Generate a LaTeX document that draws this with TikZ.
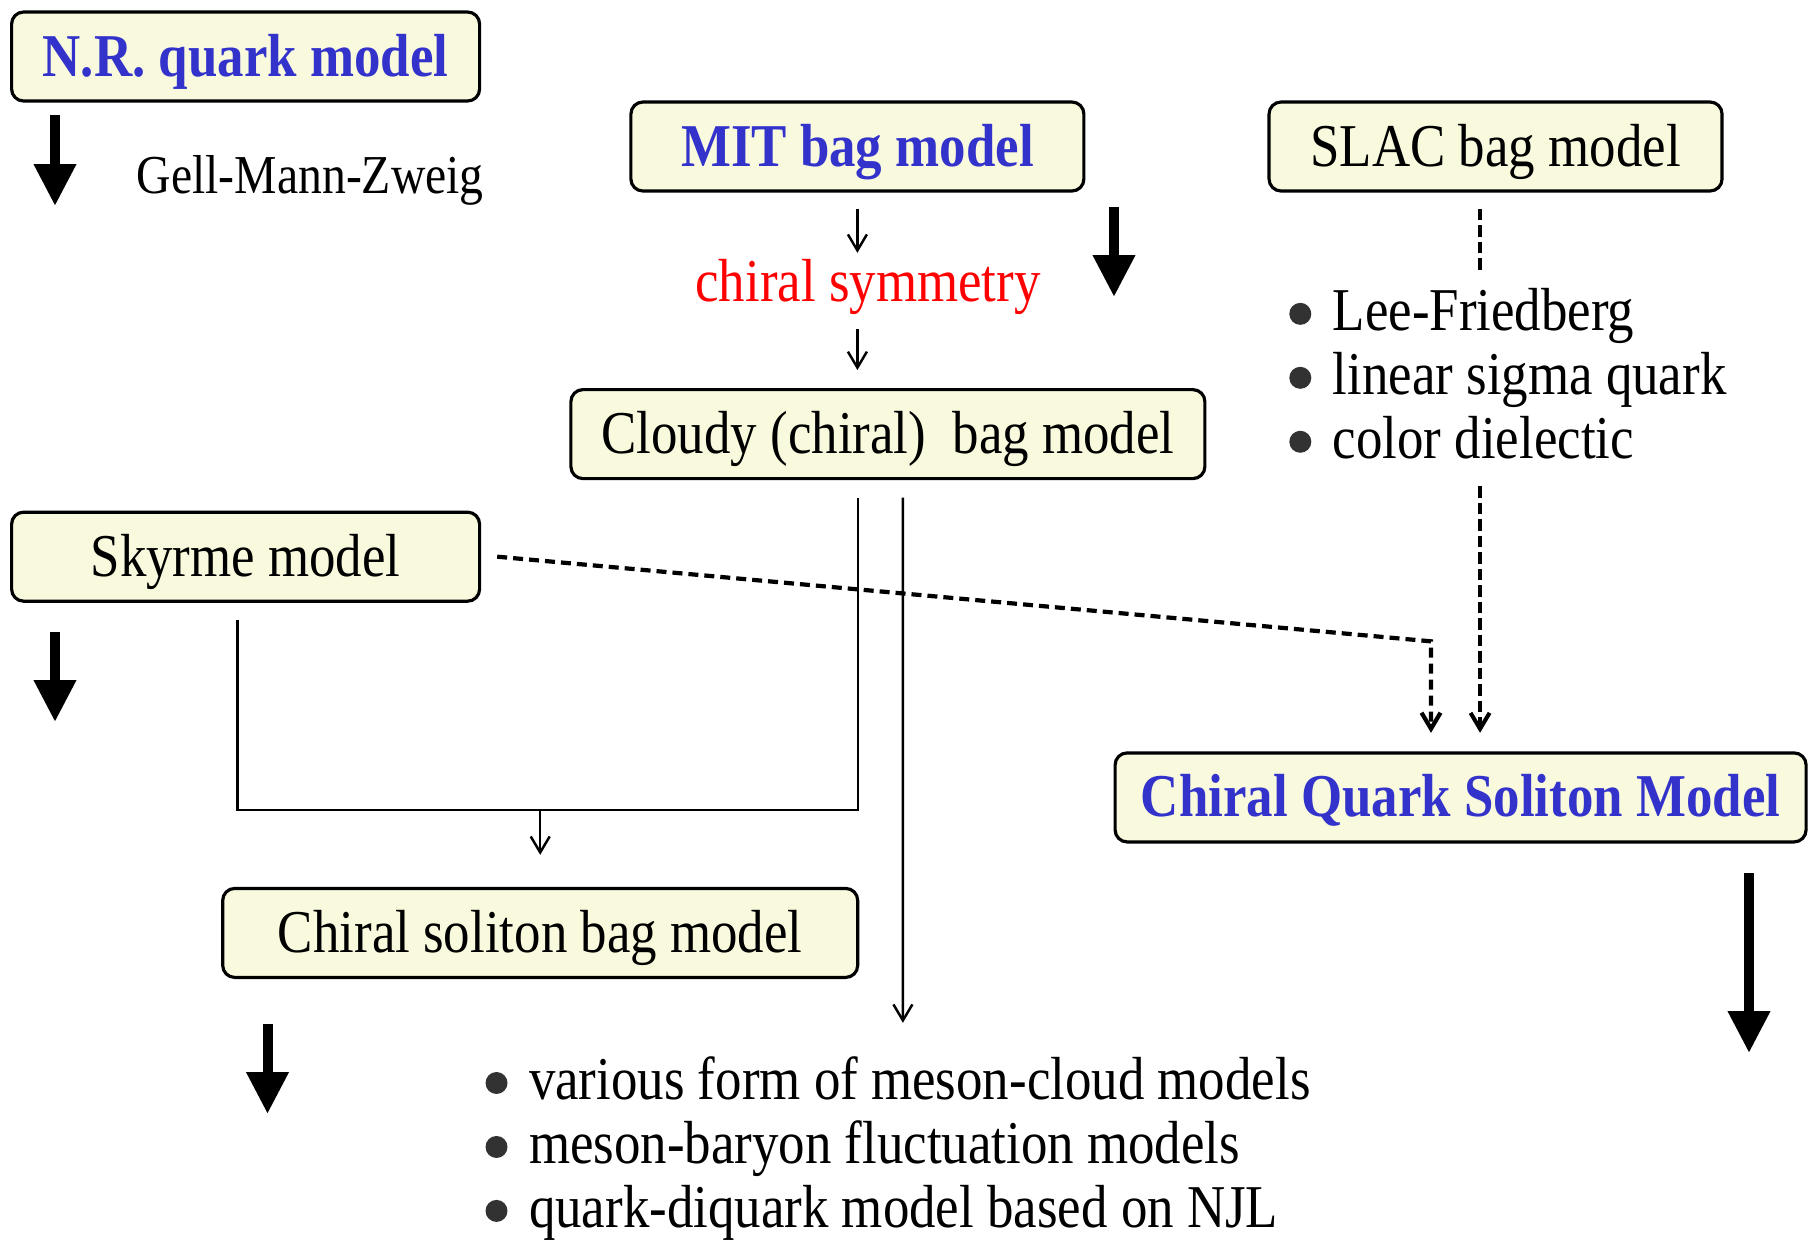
\documentclass[tikz,border=0pt]{standalone}
\usepackage{fontspec}
\setmainfont{Liberation Serif}[FakeStretch=0.87]
\usepackage{xcolor}
\usetikzlibrary{positioning, arrows.meta}
\definecolor{boxbg}{RGB}{249,250,221}
\definecolor{modelblue}{RGB}{51,51,204}
\definecolor{dotgray}{RGB}{50,50,50}
\newcommand{\dotitem}{\tikz[baseline={(0,-1.7mm)}]\fill[dotgray] (0,0) circle[radius=1.1mm];\hspace{2.15mm}}

\begin{document}
\begin{tikzpicture}[
        x=0.1mm, y=-0.1mm,
        every node/.style={font=\fontsize{17.3}{18.2}\selectfont},
        mbox/.style={draw, rectangle, rounded corners=1.2mm, fill=boxbg, line width=0.9pt, minimum height=8.9mm, inner sep=0pt, text height=4.5mm, text depth=0.6mm, align=center},
        key/.style={text=modelblue, font=\fontsize{17.3}{18.2}\selectfont\bfseries},
        link/.style={line width=0.7pt},
        arr/.style={-{Straight Barb[length=1.6mm, width=1.9mm]}, line width=0.7pt},
        dashln/.style={dash pattern=on 1.15mm off 0.5mm, line width=1.15pt},
        dasharr/.style={dashln, -{Straight Barb[length=1.6mm, width=1.9mm]}},
        big/.style={-{Triangle[length=4.2mm, width=4mm]}, line width=1mm}
    ]
    \useasboundingbox (0,0) rectangle (1808,1239);

    % model boxes
    \node[mbox, key, minimum width=46.8mm] (nr) at (245.6,56.5) {N.R. quark model};
    \node[mbox, minimum width=46.8mm] (skyrme) [below=40.8mm of nr] {Skyrme model};
    \node[mbox, key, minimum width=45.3mm] (mit) at (857.4,146.5) {MIT bag model};
    \node[mbox, minimum width=45.3mm] (slac) [right=18.2mm of mit] {SLAC bag model};
    \node[mbox, minimum width=63.4mm] (cloudy) at (887.9,434.1) {Cloudy (chiral)\ \ bag model};
    \node[mbox, minimum width=63.5mm] (csb) at (540.2,932.9) {Chiral soliton bag model};
    \node[mbox, key, minimum width=69.1mm] (cqsm) at (1460.6,797.4) {Chiral Quark Soliton Model};

    % labels and lists
    \node[anchor=west, inner sep=0pt, font=\fontsize{15.6}{18}\selectfont] (gmz) at (136,180) {Gell-Mann-Zweig};
    \node[text=red, inner sep=0pt, text height=4.5mm, text depth=0.6mm] (chiral) at (868,282) {chiral symmetry};
    \node[anchor=west, align=left, inner sep=0pt] (bagalts) at (1288.6,374)
        {\dotitem Lee-Friedberg\\ \dotitem linear sigma quark\\ \dotitem color dielectic};
    \node[anchor=west, align=left, inner sep=0pt] (mesons) at (484.8,1149)
        {\dotitem various form of meson-cloud models\\ \dotitem meson-baryon fluctuation models\\ \dotitem quark-diquark model based on NJL};

    % helper points
    \coordinate (meet) at ([yshift=7.7mm]csb.north);
    \coordinate (sk) at ([xshift=-0.8mm, yshift=-1.75mm]skyrme.south);
    \coordinate (cl1) at ([xshift=-3mm, yshift=-1.75mm]cloudy.south);
    \coordinate (cl2) at ([xshift=1.5mm, yshift=-1.75mm]cloudy.south);
    \coordinate (cloudend) at (902.9,1022.8);
    \coordinate (sl) at ([xshift=-1.55mm]slac.south);
    \coordinate (bend) at ([xshift=-2.96mm, yshift=11mm]cqsm.north);

    % thin connectors
    \draw[arr, shorten <=1.6mm] (mit.south) -- ([yshift=0.3mm]mit.south |- chiral.north);
    \draw[arr, shorten <=2.1mm] (mit.south |- chiral.south) -- ([yshift=1.8mm]mit.south |- cloudy.north);
    \draw[link] (sk) |- (meet) -| (cl1);
    \draw[arr] (meet) -- ([yshift=3.2mm]csb.north);
    \draw[arr] (cl2) -- (cloudend);

    % dashed connectors
    \draw[dashln] ([yshift=-1.6mm]sl) -- ([yshift=1.6mm]sl |- bagalts.north);
    \draw[dasharr] ([yshift=-2.6mm]sl |- bagalts.south) -- ([yshift=1.85mm]sl |- cqsm.north);
    \draw[dasharr, dash pattern=on 1mm off 0.6mm, line width=1.2pt] ([xshift=1.6mm]skyrme.east) -- (bend) -- ([yshift=1.85mm]bend |- cqsm.north);

    % thick arrows
    \draw[big] (55,115) -- (55,206);
    \draw[big] (1114,207) -- (1114,297);
    \draw[big] (55,632) -- (55,722);
    \draw[big] (1749,873) -- (1749,1053);
    \draw[big] (267.5,1024) -- (267.5,1114);

\end{tikzpicture}
\end{document}
